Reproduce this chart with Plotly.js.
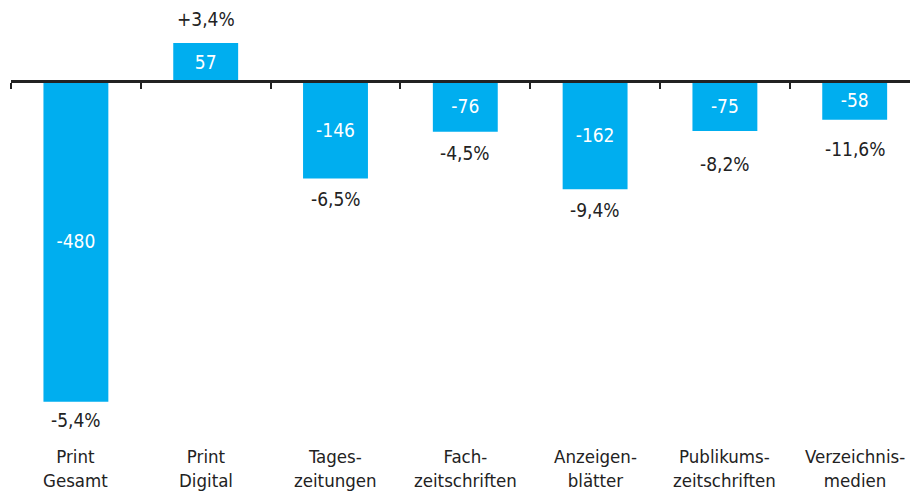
<!DOCTYPE html>
<html>
<head>
<meta charset="utf-8">
<script src="https://cdn.plot.ly/plotly-3.0.1.min.js"></script>
<style>html,body{margin:0;padding:0;background:#fff;}#chart{width:910px;height:494px;}</style>
</head>
<body>
<div id="chart"></div>
<script>
const categories = ["Print<br>Gesamt", "Print<br>Digital", "Tages-<br>zeitungen", "Fach-<br>zeitschriften", "Anzeigen-<br>blätter", "Publikums-<br>zeitschriften", "Verzeichnis-<br>medien"];
const values = [-480, 57, -146, -76, -162, -75, -58];
const pctLabels = ["-5,4%", "+3,4%", "-6,5%", "-4,5%", "-9,4%", "-8,2%", "-11,6%"];
// distance (px) between bar end and centre of its percentage label
const pctLabelGap = [18, 24, 20, 21, 21, 33, 29];

const FONT = '"Liberation Sans Narrow", "DejaVu Sans Condensed", "Roboto", sans-serif';
const idx = categories.map((_, i) => i);

const yMin = -537.4, yMax = 121.3;
const zeroPos = (0 - yMin) / (yMax - yMin);

const bars = {
  type: 'bar',
  x: idx,
  y: values,
  width: 0.5,
  marker: {color: '#00AEEF'},
  text: values.map(v => String(v)),
  textposition: 'inside',
  insidetextanchor: 'middle',
  constraintext: 'none',
  textfont: {family: FONT, size: 19, color: '#ffffff'},
  hoverinfo: 'none',
  cliponaxis: false
};

const pctAnnotations = values.map((v, i) => ({
  x: i, xref: 'x', y: v, yref: 'y',
  yanchor: 'middle', xanchor: 'center',
  yshift: v < 0 ? -pctLabelGap[i] : pctLabelGap[i],
  text: pctLabels[i], showarrow: false,
  font: {family: FONT, size: 19, color: '#222222'}
}));

const catAnnotations = categories.map((c, i) => ({
  x: i, xref: 'x', y: 0, yref: 'paper',
  yanchor: 'top', yshift: -4,
  text: c, showarrow: false,
  font: {family: FONT, size: 18.5, color: '#222222'}
}));

const layout = {
  width: 910, height: 494,
  margin: {l: 11, r: 0, t: 0, b: 54},
  paper_bgcolor: '#ffffff', plot_bgcolor: '#ffffff',
  showlegend: false,
  xaxis: {
    range: [-0.5, -0.5 + 899 / 129.8],
    anchor: 'free', position: zeroPos,
    showline: true, linecolor: '#222222', linewidth: 2.5,
    ticks: 'outside', ticklen: 6, tickwidth: 2, tickcolor: '#222222',
    tickvals: [-0.5, 0.5, 1.5, 2.5, 3.5, 4.5, 5.5],
    showticklabels: false, showgrid: false, zeroline: false
  },
  yaxis: {
    range: [yMin, yMax],
    visible: false, showgrid: false, zeroline: false
  },
  annotations: pctAnnotations.concat(catAnnotations)
};

Plotly.newPlot('chart', [bars], layout, {displayModeBar: false, staticPlot: true});
</script>
</body>
</html>
